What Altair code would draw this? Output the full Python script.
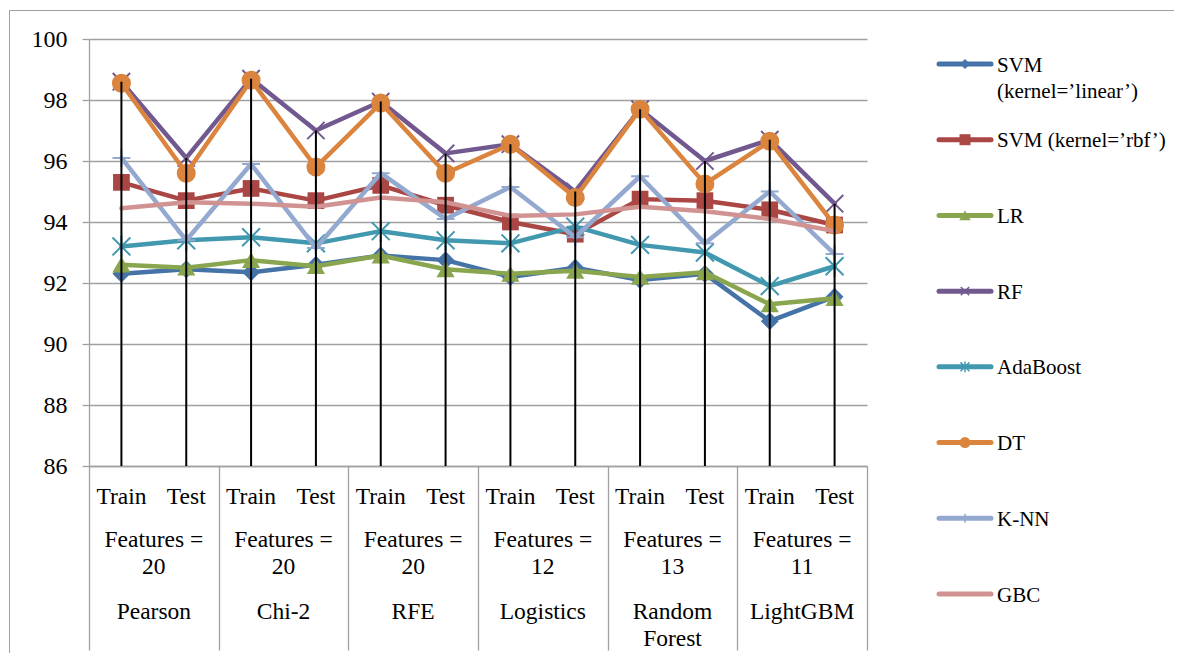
import altair as alt
import pandas as pd

# ---------------------------------------------------------------- data
methods = ["Pearson", "Chi-2", "RFE", "Logistics", "Random Forest", "LightGBM"]
n_features = [20, 20, 20, 12, 13, 11]
phases = ["Train", "Test"]

models = ["SVM (kernel=’linear’)", "SVM (kernel=’rbf’)", "LR", "RF",
          "AdaBoost", "DT", "K-NN", "GBC"]
legend_labels = ["SVM\n(kernel=’linear’)", "SVM (kernel=’rbf’)", "LR", "RF",
                 "AdaBoost", "DT", "K-NN", "GBC"]

# accuracy (%), ordered Pearson Train/Test, Chi-2 Train/Test, ... LightGBM Train/Test
svm_linear = [92.3, 92.45, 92.35, 92.6, 92.9, 92.75, 92.2, 92.5, 92.1, 92.3, 90.75, 91.55]
svm_rbf = [95.3, 94.7, 95.1, 94.7, 95.2, 94.55, 94.0, 93.6, 94.75, 94.7, 94.4, 93.9]
lr = [92.6, 92.5, 92.75, 92.55, 92.9, 92.45, 92.3, 92.4, 92.2, 92.35, 91.3, 91.5]
rf = [98.6, 96.1, 98.7, 97.0, 97.95, 96.25, 96.55, 95.0, 97.7, 96.0, 96.7, 94.6]
adaboost = [93.2, 93.4, 93.5, 93.3, 93.7, 93.4, 93.3, 93.85, 93.25, 93.0, 91.9, 92.55]
dt = [98.55, 95.6, 98.65, 95.8, 97.9, 95.6, 96.55, 94.8, 97.7, 95.25, 96.65, 93.9]
knn = [96.1, 93.4, 95.9, 93.15, 95.6, 94.1, 95.15, 93.5, 95.5, 93.3, 95.0, 92.95]
gbc = [94.45, 94.65, 94.6, 94.5, 94.8, 94.65, 94.2, 94.25, 94.5, 94.35, 94.1, 93.7]
scores = [svm_linear, svm_rbf, lr, rf, adaboost, dt, knn, gbc]

categories = [f"{m}|{p}" for m in methods for p in phases]
group_keys = [f"{m}|{n}" for m, n in zip(methods, n_features)]

df = pd.DataFrame(
    [{"model": mod, "cat": c, "value": v}
     for mod, vals in zip(models, scores) for c, v in zip(categories, vals)]
)
groups_df = pd.DataFrame({"key": group_keys})
legend_df = pd.DataFrame({"model": models, "label": legend_labels})
frame_df = pd.DataFrame({"edge": ["frame"]})

# ---------------------------------------------------------------- styles
FONT = "Liberation Serif"
GRID = "#a0a0a0"
COLORS = ["#4572A7", "#AA4643", "#89A54E", "#71588F",
          "#4198AF", "#DB843D", "#93A9CF", "#D19392"]
X_PATH = "M-1,-1L1,1M-1,1L1,-1"
STAR_PATH = "M-1,-1L1,1M-1,1L1,-1M0,-1.2L0,1.2"
PLUS_PATH = "M-1,0L1,0M0,-1L0,1"
SHAPES = ["diamond", "square", "triangle-up", X_PATH, STAR_PATH,
          "circle", PLUS_PATH, "circle"]
# (filled, size in plot, size in legend); None -> line only
MARKERS = [(True, 320, 100), (True, 280, 121), (True, 330, 130),
           (False, 300, 70), (False, 320, 80), (True, 360, 121),
           (False, 320, 80), None]

W, H = 778, 427          # plot area
LEG_X = 848              # legend column, measured from the plot's left edge

color_scale = alt.Scale(domain=models, range=COLORS)
shape_scale = alt.Scale(domain=models, range=SHAPES)
color_enc = alt.Color("model:N", scale=color_scale, legend=None)
shape_enc = alt.Shape("model:N", scale=shape_scale, legend=None)


def band():
    return alt.Scale(type="band", paddingInner=0, paddingOuter=0)


phase_axis = alt.Axis(
    orient="bottom", labelExpr="split(datum.value, '|')[1]",
    labelAngle=0, ticks=False, tickSize=0, labelPadding=30,
    labelBaseline="middle", labelFontSize=23.5, labelFont=FONT,
    labelColor="black", domainColor=GRID, domainWidth=1.3, grid=False)

score_axis = alt.Axis(
    orient="left", values=list(range(86, 101, 2)), grid=True,
    gridColor=GRID, gridWidth=1.3, tickSize=7, tickColor=GRID,
    tickWidth=1.3, domainColor=GRID, domainWidth=1.3, labelPadding=15,
    labelFontSize=24, labelFont=FONT, labelColor="black")


def x_cat(with_axis=False):
    return alt.X("cat:N", sort=categories, title=None, scale=band(),
                 axis=phase_axis if with_axis else None)


def y_enc(field, with_axis=False):
    return alt.Y(field, title=None,
                 scale=alt.Scale(domain=[86, 100], nice=False, zero=False),
                 axis=score_axis if with_axis else None)


# ---------------------------------------------------------------- plot
layers = []
for i, name in enumerate(models):
    sub = alt.Chart(df).transform_filter(alt.datum.model == name)
    layers.append(
        sub.mark_line(strokeWidth=4.5, strokeCap="round", strokeJoin="round")
        .encode(x=x_cat(i == 0), y=y_enc("value:Q", i == 0), color=color_enc)
    )
    if MARKERS[i]:
        filled, size, _ = MARKERS[i]
        layers.append(
            sub.mark_point(filled=filled, size=size, strokeWidth=2, opacity=1)
            .encode(x=x_cat(), y=y_enc("value:Q"), color=color_enc, shape=shape_enc)
        )

# drop lines from the highest score of each column down to the axis
drops = (
    alt.Chart(df)
    .transform_aggregate(top="max(value)", groupby=["cat"])
    .mark_rule(color="black", strokeWidth=2)
    .encode(x=x_cat(), y=y_enc("top:Q"), y2=alt.datum(86))
)

# thin outer frame (left and top edges)
frame_left = alt.Chart(frame_df).mark_rule(color=GRID, strokeWidth=1).encode(
    x=alt.value(-79.5), y=alt.value(-28.5), y2=alt.value(614))
frame_top = alt.Chart(frame_df).mark_rule(color=GRID, strokeWidth=1).encode(
    x=alt.value(-79.5), x2=alt.value(1085), y=alt.value(-28.5))


def group_layer(axis):
    return alt.Chart(groups_df).mark_point(opacity=0).encode(
        x=alt.X("key:N", sort=group_keys, title=None, scale=band(), axis=axis),
        y=alt.value(0))


# vertical separators between the selection methods
separator_axis = group_layer(alt.Axis(
    orient="bottom", tickBand="extent", tickSize=184, tickColor=GRID,
    tickWidth=1.3, domain=False, grid=False, labels=False))

features_axis = group_layer(alt.Axis(
    orient="bottom", ticks=False, tickSize=0, domain=False, grid=False,
    labelAngle=0, labelExpr="['Features =', split(datum.value, '|')[1]]",
    labelBaseline="top", labelLineHeight=27, labelPadding=61.2,
    labelFontSize=23.5, labelFont=FONT, labelColor="black"))

method_axis = group_layer(alt.Axis(
    orient="bottom", ticks=False, tickSize=0, domain=False, grid=False,
    labelAngle=0, labelExpr="split(split(datum.value, '|')[0], ' ')",
    labelBaseline="top", labelLineHeight=27, labelPadding=133.2,
    labelFontSize=23.5, labelFont=FONT, labelColor="black"))

# ---------------------------------------------------------------- legend
ly = alt.Y("model:N", sort=models, title=None, axis=None,
           scale=alt.Scale(type="point", domain=models, range=[25, 555],
                           padding=0))
leg_layers = [
    alt.Chart(legend_df).mark_rule(strokeWidth=5, strokeCap="round").encode(
        x=alt.value(LEG_X + 2), x2=alt.value(LEG_X + 54), y=ly, color=color_enc)
]
for i, name in enumerate(models):
    if MARKERS[i]:
        filled, _, lsize = MARKERS[i]
        leg_layers.append(
            alt.Chart(legend_df).transform_filter(alt.datum.model == name)
            .mark_point(filled=filled, size=lsize, strokeWidth=1.5, opacity=1)
            .encode(x=alt.value(LEG_X + 28), y=ly, color=color_enc, shape=shape_enc)
        )
leg_layers.append(
    alt.Chart(legend_df).mark_text(
        align="left", baseline="top", dy=-9.5, lineBreak="\n",
        lineHeight=26, font=FONT, fontSize=21, color="black")
    .encode(x=alt.value(LEG_X + 60), y=ly, text="label:N")
)

chart = (
    alt.layer(*layers, drops, frame_left, frame_top, separator_axis,
              features_axis, method_axis, *leg_layers)
    .resolve_scale(x="independent", y="independent")
    .properties(width=W, height=H,
                padding={"left": 9, "top": 10, "right": 0, "bottom": 0})
    .configure(font=FONT)
    .configure_view(stroke="transparent")
)

chart.save("out.html", embed_options={"renderer": "svg", "actions": False})
